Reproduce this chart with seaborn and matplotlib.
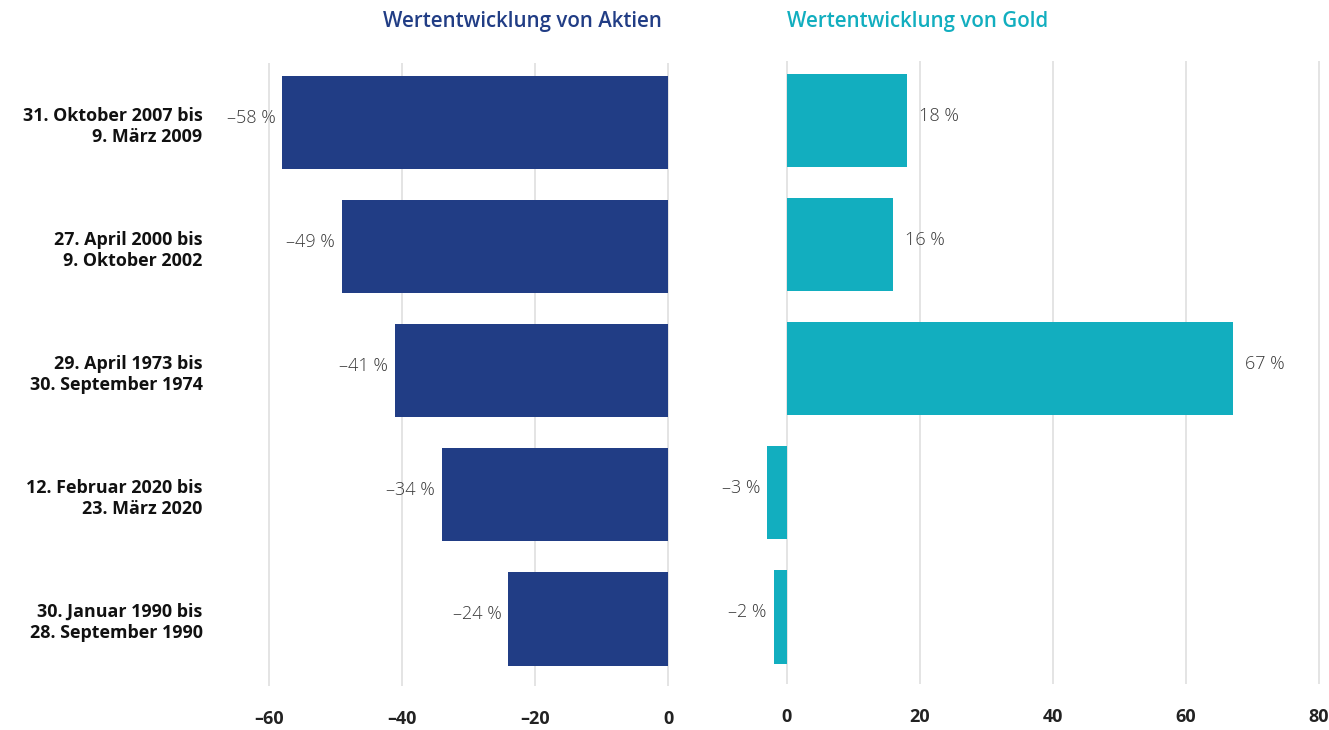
import matplotlib
matplotlib.use("Agg")
from matplotlib import pyplot as plt
import seaborn as sns
import pandas as pd

# data
zeitraeume = [
    "31. Oktober 2007 bis\n9. März 2009",
    "27. April 2000 bis\n9. Oktober 2002",
    "29. April 1973 bis\n30. September 1974",
    "12. Februar 2020 bis\n23. März 2020",
    "30. Januar 1990 bis\n28. September 1990",
]
aktien = [-58, -49, -41, -34, -24]
gold = [18, 16, 67, -3, -2]
aktien_ticks = [-60, -40, -20, 0]
gold_ticks = [0, 20, 40, 60, 80]

navy = "#213d85"
teal = "#12aebf"
grid_col = "#e4e4e4"
label_col = "#3a3a3a"

sns.set_style("white")
plt.rcParams['font.family'] = ['Open Sans', 'DejaVu Sans']

df = pd.DataFrame({"zeitraum": zeitraeume, "aktien": aktien, "gold": gold})

W, H = 1329, 730
fig = plt.figure(figsize=(W / 100, H / 100), dpi=100)
s = 6.65  # px per percent point
top, bottom = 63, 686
ax1 = fig.add_axes([240 / W, 1 - bottom / H, (672 - 240) / W, (bottom - top) / H])
ax2 = fig.add_axes([750 / W, 1 - (bottom - 2) / H, (1325 - 750) / W, (bottom - top) / H])

sns.barplot(data=df, x="aktien", y="zeitraum", color=navy, width=0.75, saturation=1,
            linewidth=0, ax=ax1)
sns.barplot(data=df, x="gold", y="zeitraum", color=teal, width=0.75, saturation=1,
            linewidth=0, ax=ax2)

ax1.set_xlim((240 - 668) / s, (672 - 668) / s)
ax2.set_xlim((750 - 787) / s, (1325 - 787) / s)

for ax, ticks, vals in [(ax1, aktien_ticks, aktien), (ax2, gold_ticks, gold)]:
    ax.set_ylim(4.54, -0.48)
    ax.set_xticks(ticks)
    ax.set_xticklabels([str(t).replace("-", "–") for t in ticks],
                       fontsize=13, fontweight="bold", color="#222222")
    ax.set_xlabel("")
    ax.set_ylabel("")
    for sp in ax.spines.values():
        sp.set_visible(False)
    for t in ticks:
        ax.axvline(t, color=grid_col, lw=1.4, zorder=0)
    ax.tick_params(axis="x", length=0, pad=17)
    ax.tick_params(axis="y", length=0)
    for i, v in enumerate(vals):
        txt = ("–" if v < 0 else "") + f"{abs(v)} %"
        if v < 0:
            ax.text(v - 7 / s, i - 0.04, txt, ha="right", va="center", fontsize=13,
                    color=label_col, fontweight="light")
        else:
            ax.text(v + 12 / s, i - 0.04, txt, ha="left", va="center", fontsize=13,
                    color=label_col, fontweight="light")

ax1.set_yticks(range(len(zeitraeume)))
ax1.set_yticklabels(zeitraeume, fontsize=12.9, fontweight="bold", color="#111111",
                    linespacing=1.25)
ax1.tick_params(axis="y", pad=27)
ax2.set_yticks([])

fig.text(662 / W, 1 - 22 / H, "Wertentwicklung von Aktien", ha="right", va="center",
         fontsize=14.8, fontweight="semibold", color=navy)
fig.text(787 / W, 1 - 22 / H, "Wertentwicklung von Gold", ha="left", va="center",
         fontsize=14.8, fontweight="semibold", color=teal)

fig.savefig("out.png", dpi=100)
